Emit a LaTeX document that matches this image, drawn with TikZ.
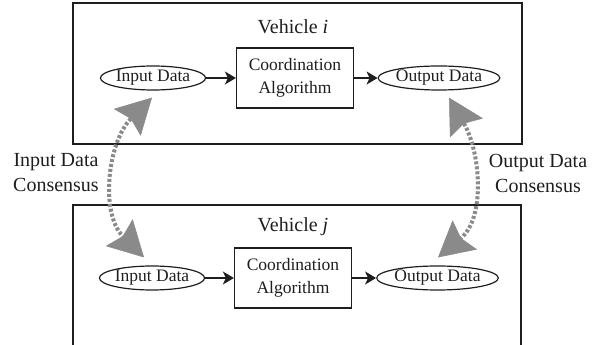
\documentclass[tikz,border=0pt]{standalone}
\usepackage{fontspec}
\setmainfont{Liberation Serif}
\usetikzlibrary{arrows.meta,calc,shapes.geometric}
\definecolor{ink}{HTML}{1E1E1E}
\definecolor{cgray}{HTML}{8A8A8A}
\begin{document}
\begin{tikzpicture}[x=1pt,y=1pt,
  frame/.style={draw=ink, line width=1.3pt},
  datanode/.style={ellipse, draw=ink, line width=1.2pt, minimum height=24pt, inner sep=0pt, text=ink, font=\fontsize{17.5}{19}\selectfont},
  algo/.style={rectangle, draw=ink, line width=1.2pt, minimum width=117pt, minimum height=60pt, align=center, inner sep=0pt, text=ink, font=\fontsize{17.5}{23}\selectfont},
  flow/.style={-{Stealth[length=11pt,width=13pt,inset=3pt]}, line width=1.3pt, draw=ink},
  consensus/.style={{Stealth[length=35pt,width=38pt,inset=5pt,line width=0.5pt,fill=cgray,color=cgray]}-{Stealth[length=35pt,width=38pt,inset=5pt,line width=0.5pt,fill=cgray,color=cgray]}, draw=cgray, line width=4pt, dash pattern=on 3pt off 2pt},
  lbl/.style={text=ink, font=\fontsize{20}{25}\selectfont, align=center},
]
\useasboundingbox (0,0) rectangle (597,345);
% vehicle frames
\node[frame, minimum width=449pt, minimum height=141pt, inner sep=0pt] (box1) at (297.5,271.5) {};
\draw[frame] (73,0) -- (73,140) -- (521,140) -- (521,0);
% vehicle i
\node[lbl] (veh1) at (293,318) {Vehicle \textit{i}};
\node[datanode, minimum width=102pt] (in1) at (153,267) {Input Data};
\node[algo] (alg1) at (295,267) {Coordination\\Algorithm};
\node[datanode, minimum width=104pt] (out1) at (439,267) {Output Data};
\draw[flow] (in1) -- (alg1);
\draw[flow] (alg1) -- (out1);
% vehicle j
\node[lbl] (veh2) at (293,118) {Vehicle \textit{j}};
\node[datanode, minimum width=102pt] (in2) at (152,67) {Input Data};
\node[algo] (alg2) at (293,67) {Coordination\\Algorithm};
\node[datanode, minimum width=105pt] (out2) at (437.5,67) {Output Data};
\draw[flow] (in2) -- (alg2);
\draw[flow] (alg2) -- (out2);
% consensus links
\coordinate (c1t) at ($(in1.south)+(-1,-7)$);
\coordinate (c1b) at ($(in2.north)+(-8,8)$);
\coordinate (c2t) at ($(out1.south)+(10,-7)$);
\coordinate (c2b) at ($(out2.north)+(0.5,8)$);
\draw[consensus] (c1t) to[out=225,in=135] (c1b);
\draw[consensus] (c2t) to[out=-60,in=40] (c2b);
\node[lbl] (lab1) at (56,172) {Input Data\\Consensus};
\node[lbl] (lab2) at (538,172) {Output Data\\Consensus};
\end{tikzpicture}
\end{document}
